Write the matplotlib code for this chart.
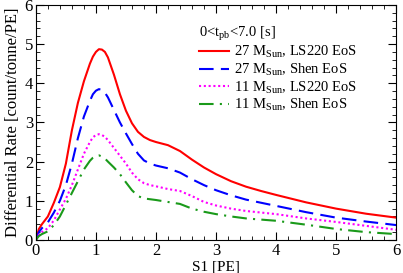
import matplotlib
matplotlib.use("Agg")
import matplotlib.pyplot as plt
from matplotlib.ticker import MultipleLocator

plt.rcParams['font.family'] = 'Liberation Serif'
plt.rcParams['mathtext.fontset'] = 'custom'
plt.rcParams['mathtext.rm'] = 'Liberation Serif'
plt.rcParams['mathtext.it'] = 'Liberation Serif:italic'

s1 = [0, 0.05, 0.1, 0.2, 0.3, 0.4, 0.5, 0.6, 0.7, 0.8, 0.9, 0.95, 1.0, 1.05, 1.1, 1.15, 1.2,
      1.3, 1.4, 1.5, 1.6, 1.7, 1.8, 1.9, 2.0, 2.2, 2.4, 2.6, 2.8, 3.0, 3.25, 3.5, 3.75, 4.0,
      4.5, 5.0, 5.5, 6.0]
rate_27_ls220 = [0, 0.28, 0.4, 0.6, 0.95, 1.35, 1.95, 2.8, 3.5, 4.05, 4.5, 4.68, 4.8, 4.87,
                 4.86, 4.8, 4.66, 4.22, 3.72, 3.3, 2.98, 2.76, 2.63, 2.55, 2.5, 2.42, 2.27,
                 2.05, 1.85, 1.68, 1.5, 1.36, 1.25, 1.15, 0.96, 0.8, 0.67, 0.57]
rate_27_shen = [0, 0.2, 0.3, 0.45, 0.7, 1.0, 1.4, 1.95, 2.6, 3.15, 3.55, 3.72, 3.81, 3.85,
                3.83, 3.76, 3.64, 3.32, 3.0, 2.72, 2.45, 2.2, 2.03, 1.95, 1.9, 1.83, 1.72,
                1.55, 1.4, 1.27, 1.14, 1.03, 0.95, 0.87, 0.71, 0.57, 0.47, 0.38]
rate_11_ls220 = [0, 0.13, 0.2, 0.3, 0.5, 0.78, 1.05, 1.4, 1.8, 2.2, 2.5, 2.62, 2.68, 2.7,
                 2.68, 2.63, 2.55, 2.35, 2.15, 1.95, 1.72, 1.55, 1.45, 1.4, 1.37, 1.3, 1.25,
                 1.12, 0.97, 0.88, 0.8, 0.74, 0.7, 0.66, 0.55, 0.46, 0.36, 0.26]
rate_11_shen = [0, 0.1, 0.15, 0.22, 0.38, 0.6, 0.9, 1.2, 1.5, 1.8, 2.02, 2.1, 2.15, 2.16,
                2.13, 2.08, 2.0, 1.85, 1.68, 1.47, 1.27, 1.12, 1.06, 1.04, 1.02, 0.97, 0.92,
                0.8, 0.72, 0.66, 0.6, 0.55, 0.52, 0.49, 0.39, 0.28, 0.2, 0.15]

fig = plt.figure(figsize=(4.03, 2.73), dpi=100)
ax = fig.add_axes([0.089, 0.121, 0.894, 0.861])

ax.plot(s1, rate_27_ls220, color='red', lw=1.5, label=r'27 M$_{\mathrm{Sun}}$, LS220 EoS')
ax.plot(s1, rate_27_shen, color='blue', lw=1.5, dashes=(7, 3.5), label=r'27 M$_{\mathrm{Sun}}$, Shen EoS')
ax.plot(s1, rate_11_ls220, color='magenta', lw=1.5, ls=(0, (1, 1.3)), label=r'11 M$_{\mathrm{Sun}}$, LS220 EoS')
ax.plot(s1, rate_11_shen, color='#1a9a1a', lw=1.5, dashes=(7, 3, 1, 3), label=r'11 M$_{\mathrm{Sun}}$, Shen EoS')

ax.set_xlim(0, 6)
ax.set_ylim(0, 6)
ax.xaxis.set_major_locator(MultipleLocator(1))
ax.xaxis.set_minor_locator(MultipleLocator(0.2))
ax.yaxis.set_major_locator(MultipleLocator(1))
ax.yaxis.set_minor_locator(MultipleLocator(0.2))
ax.tick_params(which='both', direction='in', top=True, right=True, labelsize=12, pad=2)
ax.tick_params(which='major', length=6)
ax.tick_params(which='minor', length=3)
ax.set_xlabel('S1 [PE]', fontsize=11, labelpad=1)
ax.set_ylabel('Differential Rate [count/tonne/PE]', fontsize=12, labelpad=3)

leg = ax.legend(title=r'0<t$_{\mathrm{pb}}$<7.0 [s]', loc='upper left', bbox_to_anchor=(0.452, 0.915),
                frameon=False, fontsize=10.5, title_fontsize=10.5, handlelength=2.1,
                labelspacing=0.1, handletextpad=0.3, borderaxespad=0, borderpad=0)
leg._legend_box.align = 'left'

fig.savefig('out.png', dpi=100)
